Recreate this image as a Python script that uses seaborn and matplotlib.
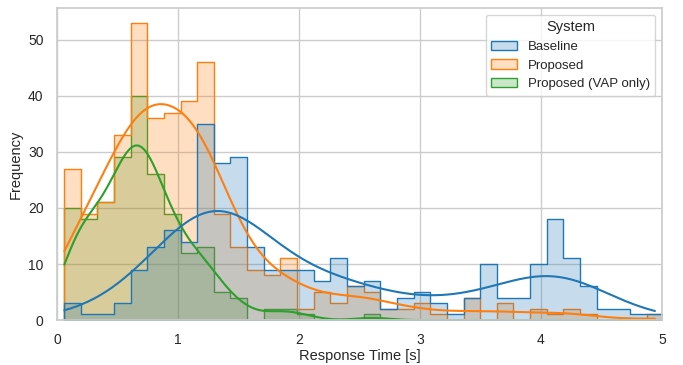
import numpy as np
import pandas as pd
import seaborn as sns
import matplotlib.pyplot as plt

## Histogram counts read per bin (36 shared bins)

bin_start = 0.055
bin_end = 5.012
n_bins = 36

baseline_counts = [3, 1, 1, 3, 9, 13, 16, 14, 35, 28, 29, 13, 9, 9, 9, 7, 11, 6,
                   7, 2, 4, 5, 3, 1, 4, 10, 4, 4, 10, 18, 11, 6, 2, 2, 1, 1]
proposed_counts = [27, 19, 21, 33, 53, 36, 37, 39, 46, 19, 13, 9, 8, 11, 2, 5, 3, 6,
                   5, 2, 2, 3, 1, 0, 4, 0, 3, 0, 2, 1, 2, 1, 0, 0, 0, 1]
vap_counts = [20, 18, 21, 29, 40, 26, 19, 12, 13, 5, 4, 0, 2, 2, 1, 0, 0, 0,
              1, 0, 0, 0, 0, 0, 0, 0, 0, 0, 0, 0, 0, 0, 0, 0, 0, 0]

systems = ["Baseline", "Proposed", "Proposed (VAP only)"]

# expand counts back into samples, spread evenly inside each bin
edges = np.linspace(bin_start, bin_end, n_bins + 1)
width = edges[1] - edges[0]

frames = []
for name, counts in zip(systems, [baseline_counts, proposed_counts, vap_counts]):
    values = []
    for left, n in zip(edges[:-1], counts):
        values.extend(left + (np.arange(n) + 0.5) / n * width if n else [])
    frames.append(pd.DataFrame({"Response Time [s]": values, "System": name}))

data = pd.concat(frames, ignore_index=True)

sns.set_theme(style="whitegrid")
plt.rcParams["font.family"] = ["Liberation Sans", "DejaVu Sans"]
plt.rcParams["xtick.major.pad"] = 3
plt.rcParams["ytick.major.pad"] = 4

fig, ax = plt.subplots(figsize=(6.83, 3.65), dpi=100)
fig.subplots_adjust(left=0.084, right=0.969, top=0.978, bottom=0.123)

sns.histplot(
    data=data,
    x="Response Time [s]",
    hue="System",
    hue_order=systems,
    element="step",
    kde=True,
    bins=n_bins,
    binrange=(bin_start, bin_end),
    palette="tab10",
    ax=ax,
)

ax.set_xlim(0, 5)
ax.set_xlabel("Response Time [s]", fontsize=10.5, labelpad=2)
ax.set_ylabel("Frequency", fontsize=10.5, labelpad=4)
ax.tick_params(labelsize=10)

sns.move_legend(ax, "upper right", title="System", fontsize=9.5, title_fontsize=10.5)

fig.savefig("out.png", dpi=100)
